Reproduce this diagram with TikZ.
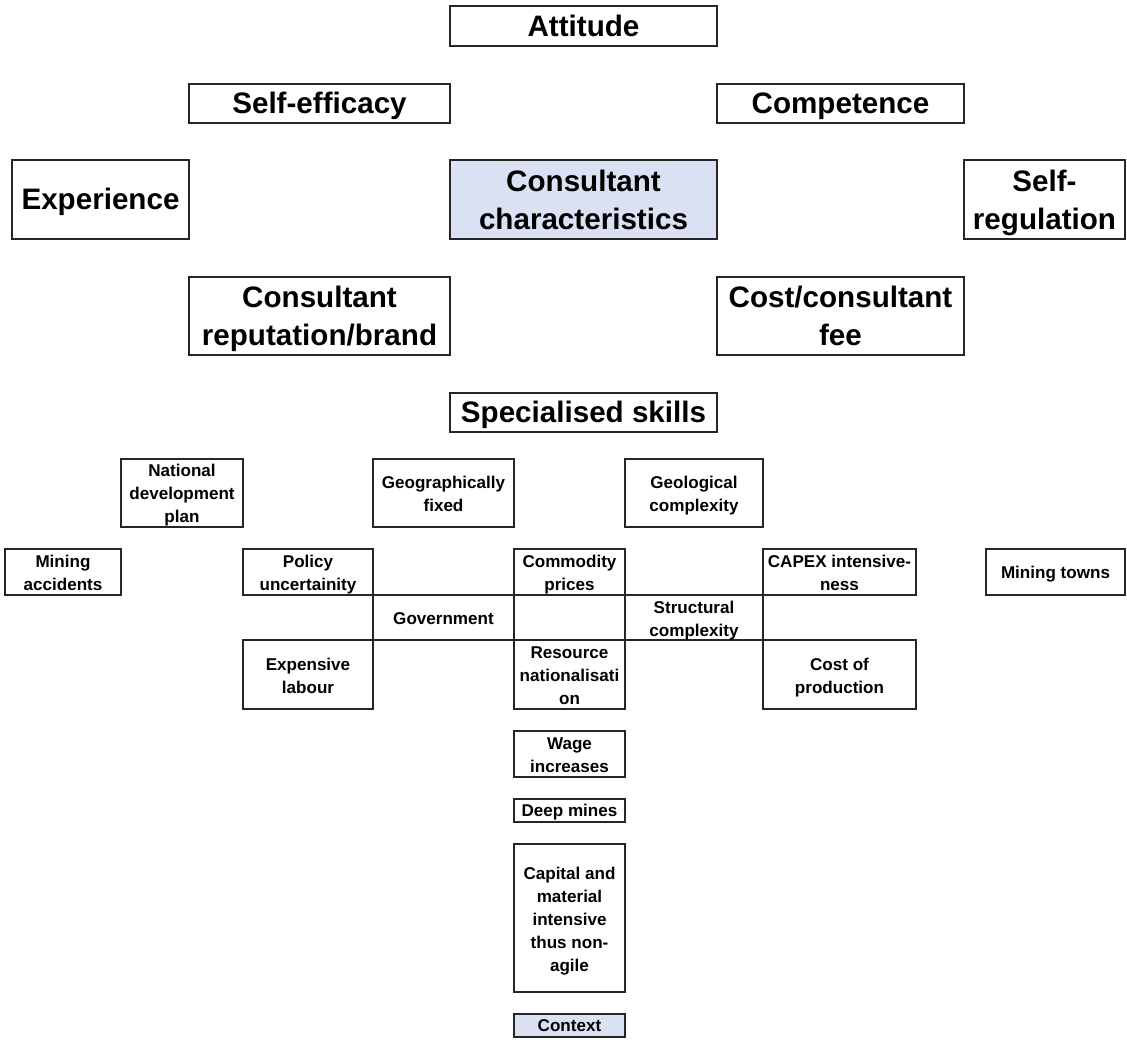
\documentclass[tikz,border=0pt]{standalone}
\usepackage{fontspec}
\setmainfont{Liberation Sans}
\definecolor{corefill}{HTML}{D9E1F2}
\definecolor{edge}{HTML}{262626}
% invisible strut spanning the font's full ascent and descent
\newcommand\fontstrut{\rule[-0.212em]{0pt}{1.117em}}
% \cellbox[drop]{style}{name}{left}{top}{right}{bottom}{text}:
% a box between two corners, its text centred and lowered by 'drop' pixels
\newcommand\cellbox[8][0]{%
  \pgfmathsetmacro\cellw{(#6-#4)*0.75}%
  \pgfmathsetmacro\cellh{(#7-#5)*0.75}%
  \node[#2, box, minimum width=\cellw pt, minimum height=\cellh pt]
    (#3) at ({(#4+#6)/2},{(#5+#7)/2}) {};
  \node[#2, txt] (#3-text) at ([yshift=-#1*0.75pt]#3.center) {#8};}
\begin{document}
\begin{tikzpicture}[x=0.75pt,y=-0.75pt,
  box/.style={draw=edge, line width=1.1pt, inner sep=0pt},
  txt/.style={draw=none, fill=none, inner sep=0pt, align=center,
    execute at begin node=\fontstrut, execute at end node=\fontstrut},
  big/.style={font=\fontsize{22.2}{28.5}\selectfont\bfseries},
  small/.style={font=\fontsize{12.8}{17.2}\selectfont\bfseries},
  core/.style={fill=corefill}]
\useasboundingbox (0,0) rectangle (1127,1039);

% consultant characteristics
\cellbox{big}{attitude}{450}{6}{717}{46}{Attitude}
\cellbox{big}{selfeff}{189}{84}{450}{123}{Self-efficacy}
\cellbox{big}{competence}{717}{84}{964}{123}{Competence}
\cellbox{big}{experience}{12}{160}{189}{239}{Experience}
\cellbox[3]{big,core}{consult}{450}{160}{717}{239}{Consultant\\characteristics}
\cellbox[3]{big}{selfreg}{964}{160}{1125}{239}{Self-\\regulation}
\cellbox[3]{big}{reputation}{189}{277}{450}{355}{Consultant\\reputation/brand}
\cellbox[3]{big}{fee}{717}{277}{964}{355}{Cost/consultant\\fee}
\cellbox{big}{skills}{450}{393}{717}{432}{Specialised skills}

% context
\cellbox[2]{small}{ndp}{121}{459}{243}{527}{National\\development\\plan}
\cellbox[3]{small}{geofixed}{373}{459}{514}{527}{Geographically\\fixed}
\cellbox[3]{small}{geocomplex}{625}{459}{763}{527}{Geological\\complexity}

\cellbox[3]{small}{accidents}{5}{549}{121}{595}{Mining\\accidents}
\cellbox[3]{small}{policy}{243}{549}{373}{595}{Policy\\uncertainity}
\cellbox[3]{small}{commodity}{514}{549}{625}{595}{Commodity\\prices}
\cellbox[3]{small}{capex}{763}{549}{916}{595}{CAPEX intensive-\\ness}
\cellbox[1]{small}{towns}{986}{549}{1125}{595}{Mining towns}

\cellbox[1]{small}{government}{373}{595}{514}{640}{Government}
\cellbox[3]{small}{structural}{625}{595}{763}{640}{Structural\\complexity}

\cellbox[3]{small}{labour}{243}{640}{373}{709}{Expensive\\labour}
\cellbox[3]{small}{resource}{514}{640}{625}{709}{Resource\\nationalisati\\on}
\cellbox[3]{small}{production}{763}{640}{916}{709}{Cost of\\production}

\cellbox[3]{small}{wage}{514}{731}{625}{777}{Wage\\increases}
\cellbox{small}{deep}{514}{799}{625}{822}{Deep mines}
\cellbox[3]{small}{capital}{514}{844}{625}{992}{Capital and\\material\\intensive\\thus non-\\agile}
\cellbox{small,core}{context}{514}{1014}{625}{1037}{Context}
\end{tikzpicture}
\end{document}
